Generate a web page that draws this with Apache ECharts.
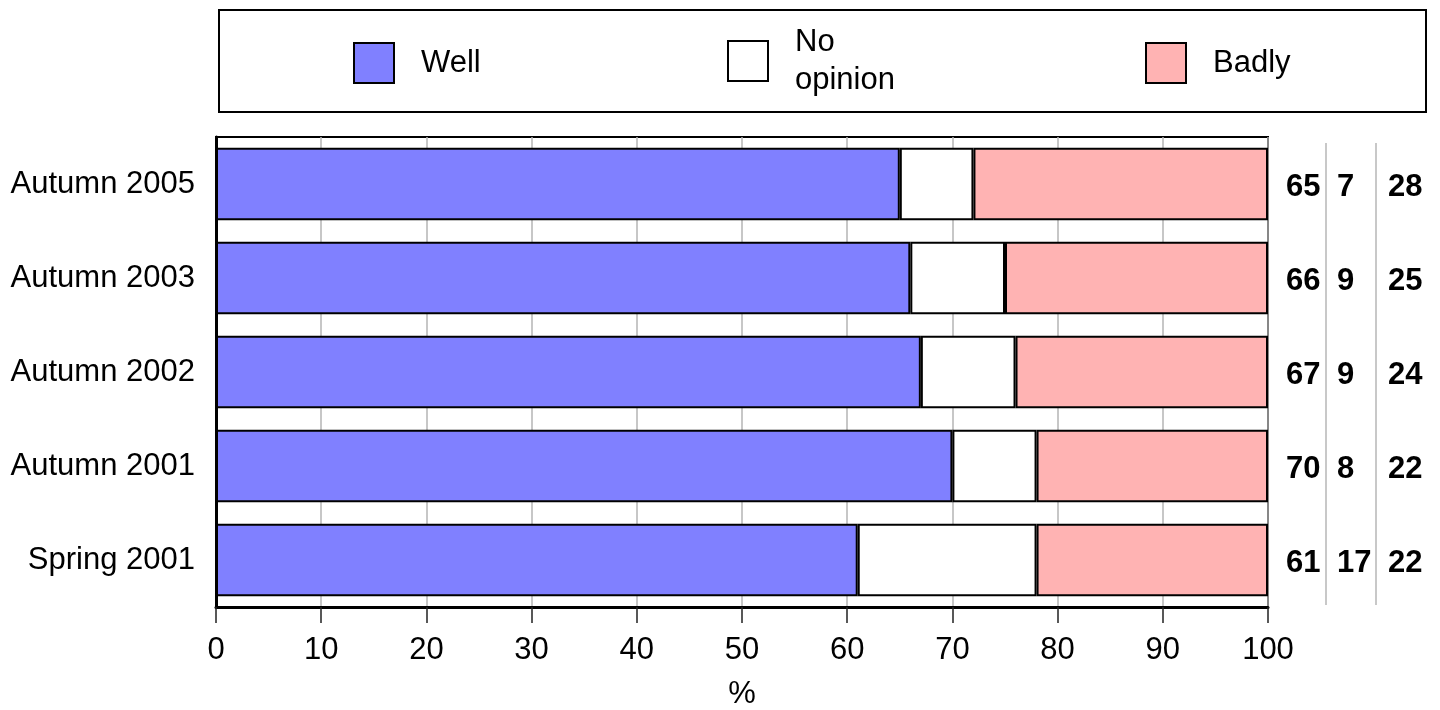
<!DOCTYPE html>
<html>
<head>
<meta charset="utf-8">
<script src="https://cdn.jsdelivr.net/npm/echarts@6/dist/echarts.min.js"></script>
<style>
html,body{margin:0;padding:0;background:#fff;}
#chart{width:1440px;height:710px;}
</style>
</head>
<body>
<div id="chart"></div>
<script>
var categories = ['Autumn 2005', 'Autumn 2003', 'Autumn 2002', 'Autumn 2001', 'Spring 2001'];
var well = [65, 66, 67, 70, 61];
var noOpinion = [7, 9, 9, 8, 17];
var badly = [28, 25, 24, 22, 22];
var xTicks = [0, 10, 20, 30, 40, 50, 60, 70, 80, 90, 100];

var FONT = '"Liberation Sans", Arial, sans-serif';
var colors = { well: '#8080FF', none: '#FFFFFF', bad: '#FFB3B3' };

var tableData = [];
categories.forEach(function (c, i) {
  tableData.push([0, i + 0.5, well[i]]);
  tableData.push([1, i + 0.5, noOpinion[i]]);
  tableData.push([2, i + 0.5, badly[i]]);
});

var chart = echarts.init(document.getElementById('chart'), null, { renderer: 'canvas' });

function legendCfg(name, left, top, fmt) {
  return {
    data: [name],
    left: left,
    top: top,
    padding: 0,
    itemWidth: 40,
    itemHeight: 40,
    icon: 'rect',
    selectedMode: false,
    itemStyle: { borderColor: '#000', borderWidth: 2 },
    formatter: fmt || undefined,
    textStyle: {
      fontFamily: FONT, fontSize: 31, color: '#000',
      lineHeight: 38, padding: [0, 0, 0, 22]
    }
  };
}

var option = {
  animation: false,
  backgroundColor: '#fff',
  textStyle: { fontFamily: FONT },
  graphic: [{
    type: 'rect',
    shape: { x: 219, y: 10, width: 1207, height: 102 },
    style: { fill: 'none', stroke: '#000', lineWidth: 2 },
    silent: true
  }],
  legend: [
    legendCfg('Well', 353, 42),
    legendCfg('No opinion', 727, 23, function () { return 'No\nopinion'; }),
    legendCfg('Badly', 1145, 42)
  ],
  grid: [
    { left: 216, right: 172, top: 137, bottom: 103, show: true, borderColor: '#000', borderWidth: 2, outerBoundsMode: 'none', containLabel: false },
    { left: 1286, width: 153, top: 143, bottom: 105, outerBoundsMode: 'none', containLabel: false }
  ],
  xAxis: [{
    gridIndex: 0,
    type: 'value', min: 0, max: 100, interval: 10,
    name: '%', nameLocation: 'middle', nameGap: 72,
    nameTextStyle: { fontFamily: FONT, fontSize: 31, color: '#000' },
    axisLine: { show: true, lineStyle: { color: '#000', width: 3 } },
    axisTick: { show: true, length: 16, lineStyle: { color: '#222', width: 1.5 } },
    axisLabel: {
      fontFamily: FONT, fontSize: 31, color: '#000', margin: 28,
      formatter: function (v) { return xTicks.indexOf(v) >= 0 ? String(v) : ''; }
    },
    splitLine: { show: true, lineStyle: { color: '#b4b4b4', width: 1.5 } }
  }, {
    gridIndex: 1, type: 'value', min: 0, max: 3, show: false
  }],
  yAxis: [{
    gridIndex: 0,
    type: 'category', inverse: true, data: categories,
    axisLine: { show: true, lineStyle: { color: '#000', width: 3 } },
    axisTick: { show: false },
    axisLabel: { fontFamily: FONT, fontSize: 31, color: '#000', margin: 21 },
    splitLine: { show: false }
  }, {
    gridIndex: 1, type: 'value', inverse: true, min: 0.064, max: 4.979, show: false
  }],
  series: [{
    name: 'Well', type: 'bar', stack: 's', data: well,
    barCategoryGap: '23%',
    itemStyle: { color: colors.well, borderColor: '#000', borderWidth: 2 }
  }, {
    name: 'No opinion', type: 'bar', stack: 's', data: noOpinion,
    barCategoryGap: '23%',
    itemStyle: { color: colors.none, borderColor: '#000', borderWidth: 2 }
  }, {
    name: 'Badly', type: 'bar', stack: 's', data: badly,
    barCategoryGap: '23%',
    itemStyle: { color: colors.bad, borderColor: '#000', borderWidth: 2 }
  }, {
    name: 'table', type: 'scatter', xAxisIndex: 1, yAxisIndex: 1,
    symbolSize: 0, data: tableData, silent: true,
    itemStyle: { opacity: 1, color: '#000' },
    label: {
      show: true, position: 'right', distance: 0, offset: [0, 3],
      fontFamily: FONT, fontSize: 31, fontWeight: 'bold', color: '#000',
      formatter: function (p) { return String(p.value[2]); }
    },
    markLine: {
      silent: true, symbol: 'none',
      label: { show: false },
      lineStyle: { color: '#c8c8c8', width: 2, type: 'solid' },
      data: [{ xAxis: 0.78 }, { xAxis: 1.76 }]
    }
  }]
};

chart.setOption(option);
</script>
</body>
</html>
